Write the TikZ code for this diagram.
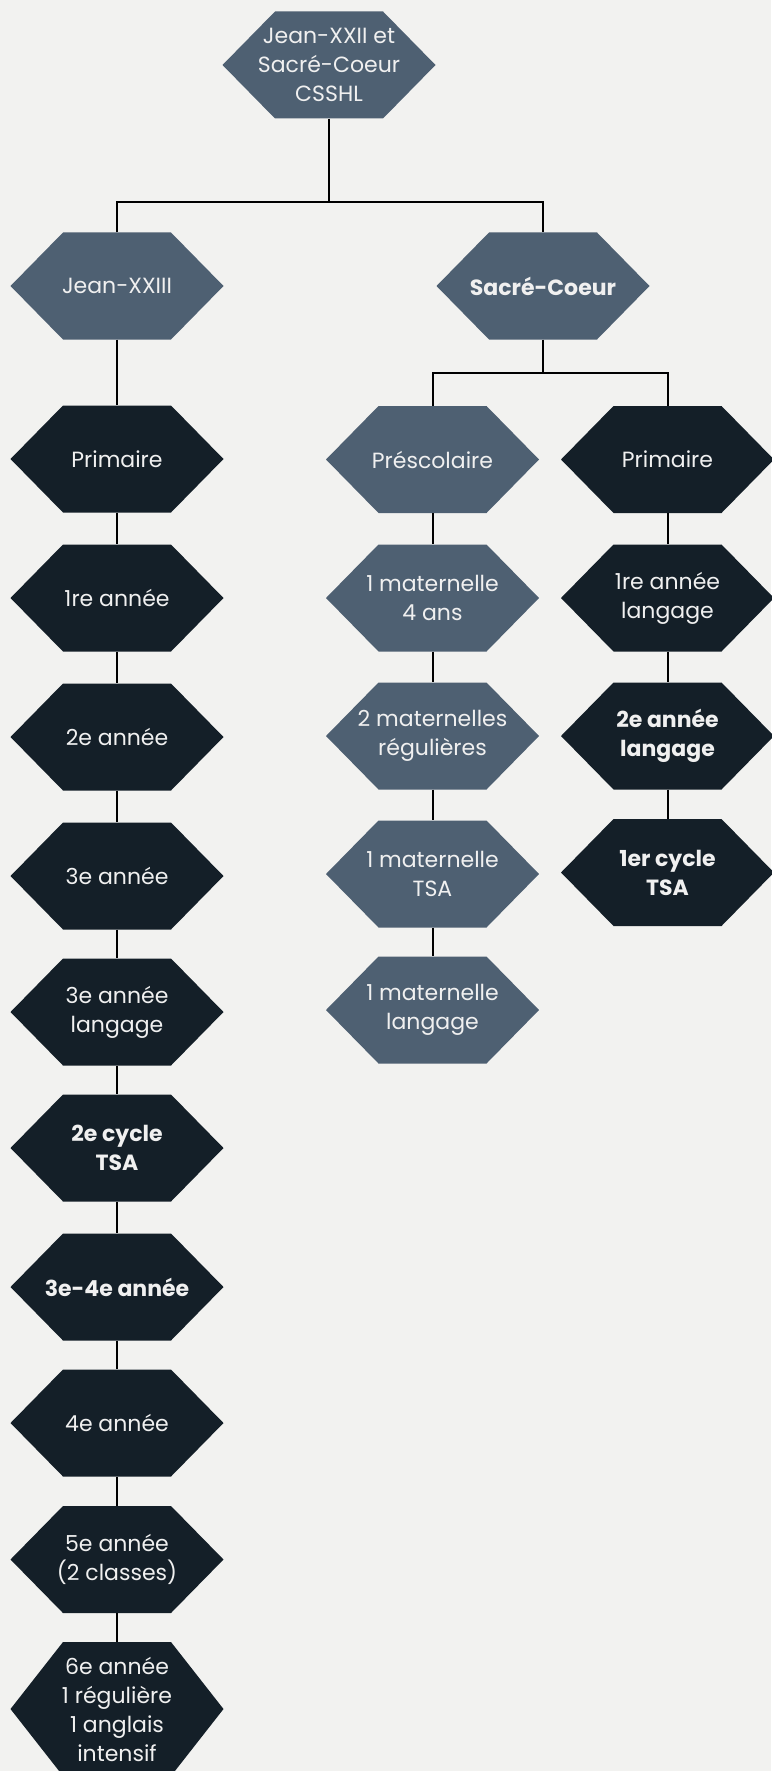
\documentclass[tikz,border=0pt]{standalone}
\usepackage{fontspec}
\setmainfont{Poppins}
\definecolor{bg}{HTML}{F2F2F0}
\definecolor{slate}{HTML}{4E6072}
\definecolor{darkc}{HTML}{141F28}
\definecolor{txt}{HTML}{F0F0F0}
\begin{document}
\begin{tikzpicture}[x=1pt,y=-1pt]
\tikzset{
  hexa/.style={minimum width=213pt, minimum height=107pt, inner sep=0pt,
    text=txt, align=center, font=\fontsize{22}{29}\selectfont,
    path picture={\fill[#1] (path picture bounding box.west)
      -- ([xshift=52.5pt]path picture bounding box.north west)
      -- ([xshift=-52.5pt]path picture bounding box.north east)
      -- (path picture bounding box.east)
      -- ([xshift=-52.5pt]path picture bounding box.south east)
      -- ([xshift=52.5pt]path picture bounding box.south west) -- cycle;}},
  light/.style={hexa=slate},
  darkhex/.style={hexa=darkc},
  boldtxt/.style={font=\fontsize{22}{29}\selectfont\bfseries},
  link/.style={draw=black, line width=2pt}
}
\fill[bg] (0,0) rectangle (771,1771);
\useasboundingbox (0,0) rectangle (771,1771);

% top
\node[light] (top) at (329,65) {Jean-XXII et\\Sacré-Coeur\\CSSHL};
\node[light] (jean) at (117,286) {Jean-XXIII};
\node[light, boldtxt] (sacre) at (543,286) {Sacré-Coeur};

% left column
\node[darkhex] (L1) at (117,459) {Primaire};
\node[darkhex] (L2) at (117,598) {1re année};
\node[darkhex] (L3) at (117,737) {2e année};
\node[darkhex] (L4) at (117,876) {3e année};
\node[darkhex] (L5) at (117,1012) {3e année\\langage};
\node[darkhex, boldtxt] (L6) at (117,1148) {2e cycle\\TSA};
\node[darkhex, boldtxt] (L7) at (117,1287) {3e-4e année};
\node[darkhex] (L8) at (117,1423) {4e année};
\node[darkhex] (L9) at (117,1559.5) {5e année\\(2 classes)};
\node[darkhex, minimum height=134pt] (L10) at (117,1709) {6e année\\1 régulière\\1 anglais\\intensif};

% middle column
\node[light] (M1) at (432.5,459.5) {Préscolaire};
\node[light] (M2) at (432.5,598) {1 maternelle\\4 ans};
\node[light] (M3) at (432.5,736) {2 maternelles\\régulières};
\node[light] (M4) at (432.5,874) {1 maternelle\\TSA};
\node[light] (M5) at (432.5,1010) {1 maternelle\\langage};

% right column
\node[darkhex] (R1) at (667.5,459.5) {Primaire};
\node[darkhex] (R2) at (667.5,598) {1re année\\langage};
\node[darkhex, boldtxt] (R3) at (667.5,736) {2e année\\langage};
\node[darkhex, boldtxt] (R4) at (667.5,872.5) {1er cycle\\TSA};

% connectors
\coordinate (bus1) at (329,202);
\coordinate (bus2) at (543,373);
\draw[link] (top.south) -- (bus1);
\draw[link] (jean.north) |- (bus1) -| (sacre.north);
\draw[link] (sacre.south) -- (bus2);
\draw[link] (M1.north) |- (bus2) -| (R1.north);

\draw[link] (jean.south) -- (L1.north);
\foreach \a/\b in {L1/L2,L2/L3,L3/L4,L4/L5,L5/L6,L6/L7,L7/L8,L8/L9,L9/L10,
                   M1/M2,M2/M3,M3/M4,M4/M5,
                   R1/R2,R2/R3,R3/R4}
  \draw[link] (\a.south) -- (\b.north);
\end{tikzpicture}
\end{document}
